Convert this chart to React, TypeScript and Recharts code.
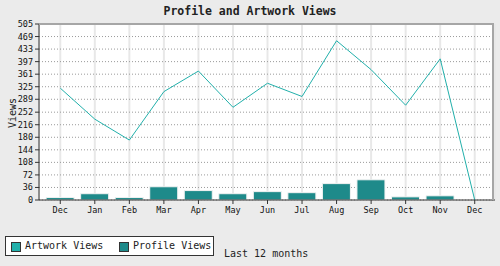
import React from 'react';
import { ComposedChart, Bar, Line, XAxis, YAxis, CartesianGrid } from 'recharts';

const months = ['Dec', 'Jan', 'Feb', 'Mar', 'Apr', 'May', 'Jun', 'Jul', 'Aug', 'Sep', 'Oct', 'Nov', 'Dec'];
const artworkViews = [321, 232, 172, 311, 370, 266, 335, 297, 457, 374, 272, 405, 0];
const profileViews = [7, 18, 7, 38, 27, 18, 24, 21, 47, 58, 9, 12, 0];
const yTicks = [0, 36, 72, 108, 144, 180, 216, 252, 289, 325, 361, 397, 433, 469, 505];

const data = months.map((m, i) => ({ month: m, idx: i, artwork: artworkViews[i], profile: profileViews[i] }));

const mono = '"DejaVu Sans Mono", monospace';
const lineColor = '#22b0ab';
const barColor = '#1e8a8a';

const App = () => {
  return (
    <div style={{ position: 'absolute', left: 0, top: 0, width: 500, height: 266, background: '#ebebeb', fontFamily: mono }}>
      <div style={{ position: 'absolute', left: 0, top: 4, width: 500, textAlign: 'center', fontSize: 11.5, fontWeight: 'bold', color: '#222' }}>
        Profile and Artwork Views
      </div>
      <div style={{ position: 'absolute', left: 0, top: 0 }}>
        <ComposedChart
          width={500}
          height={266}
          data={data}
          margin={{ top: 24, right: 5, bottom: 46, left: 6 }}
          barCategoryGap="9%"
        >
          <CartesianGrid horizontal={false} vertical fill="#ffffff" stroke="#e8e8e8" strokeWidth={2} />
          <CartesianGrid horizontal vertical={false} stroke="#9a9a9a" strokeDasharray="1 2" />
          <XAxis
            dataKey="idx"
            tickFormatter={(v: number) => months[v]}
            padding={{ left: 4, right: 3 }}
            height={20}
            tick={{ fontSize: 8.5, fontFamily: mono, fill: '#111' }}
            tickSize={4}
            tickMargin={3}
            stroke="#333"
            interval={0}
          />
          <YAxis
            domain={[0, 505]}
            ticks={yTicks}
            width={33}
            tick={{ fontSize: 8.5, fontFamily: mono, fill: '#111' }}
            tickSize={4}
            tickMargin={2}
            stroke="#333"
            interval={0}
          />
          <Bar dataKey="profile" fill={barColor} stroke="#f2f2f2" strokeWidth={1} isAnimationActive={false} />
          <Line dataKey="artwork" stroke={lineColor} strokeWidth={1} dot={false} activeDot={false} isAnimationActive={false} />
        </ComposedChart>
      </div>
      <div style={{ position: 'absolute', left: 39, top: 23, width: 455, height: 177, borderTop: '2px solid #a6a6a6', borderRight: '2px solid #a6a6a6', boxSizing: 'border-box', pointerEvents: 'none' }} />
      <div style={{ position: 'absolute', left: 12, top: 113, transform: 'translate(-50%, -50%) rotate(-90deg)', fontSize: 10, color: '#222', whiteSpace: 'nowrap' }}>Views</div>
      <div style={{ position: 'absolute', left: 5, top: 236, width: 209, height: 20, boxSizing: 'border-box', background: '#fff', border: '1px solid #333', fontSize: 10, color: '#222', whiteSpace: 'nowrap' }}>
        <span style={{ position: 'absolute', left: 5, top: 5, width: 10, height: 10, boxSizing: 'border-box', background: lineColor, border: '1px solid #333' }} />
        <span style={{ position: 'absolute', left: 19, top: 3 }}>Artwork Views</span>
        <span style={{ position: 'absolute', left: 113, top: 5, width: 10, height: 10, boxSizing: 'border-box', background: barColor, border: '1px solid #333' }} />
        <span style={{ position: 'absolute', left: 127, top: 3 }}>Profile Views</span>
      </div>
      <div style={{ position: 'absolute', left: 224, top: 248, fontSize: 10, color: '#222', whiteSpace: 'nowrap' }}>Last 12 months</div>
    </div>
  );
};

export default App;
